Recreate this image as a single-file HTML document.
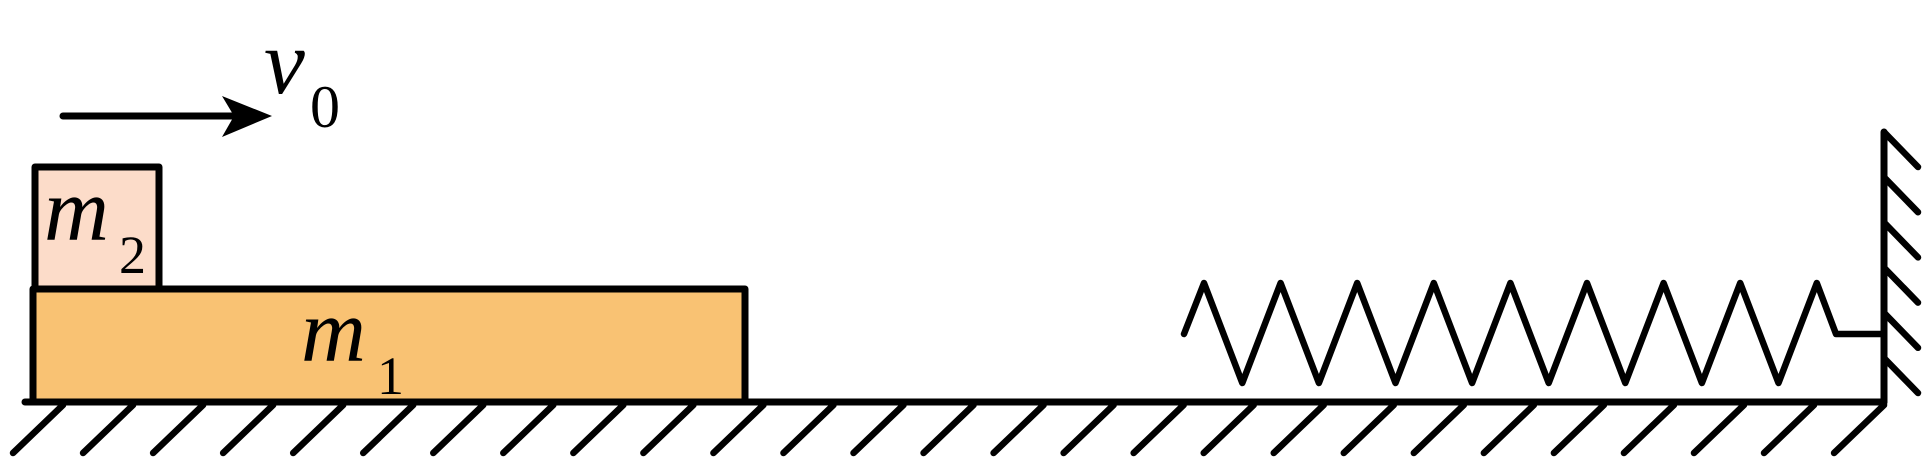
<!DOCTYPE html>
<html><head><meta charset="utf-8"><style>
html,body{margin:0;padding:0;background:#fff;}
svg{display:block;}
text{font-family:"Liberation Serif",serif;fill:#000;}
</style></head><body>
<svg id="fig" width="1930" height="465" viewBox="0 0 1930 465" xmlns="http://www.w3.org/2000/svg">
  <g id="hatches" stroke="#000" stroke-width="6.5" stroke-linecap="round"></g>
  <g id="wallHatches" stroke="#000" stroke-width="6.5" stroke-linecap="round"></g>
  <rect x="33" y="289" width="712" height="113" fill="#F9C273" stroke="#000" stroke-width="7" stroke-linejoin="round"/>
  <rect x="35" y="167" width="124" height="122" fill="#FCDCC9" stroke="#000" stroke-width="7" stroke-linejoin="round"/>
  <line x1="25" y1="402" x2="1884" y2="402" stroke="#000" stroke-width="7" stroke-linecap="round"/>
  <line x1="1884" y1="132" x2="1884" y2="402" stroke="#000" stroke-width="7" stroke-linecap="round"/>
  <polyline id="spring" fill="none" stroke="#000" stroke-width="6.5" stroke-linejoin="round" stroke-linecap="round"/>
  <line x1="63" y1="116" x2="235" y2="116" stroke="#000" stroke-width="7" stroke-linecap="round"/>
  <polygon points="272,116 222,96 234,116 222,137" fill="#000"/>
  <text x="264" y="93" font-size="92" font-style="italic">v</text>
  <text x="310" y="127" font-size="60">0</text>
  <text x="44" y="240" font-size="90" font-style="italic">m</text>
  <text x="119" y="273" font-size="54">2</text>
  <text x="301" y="361" font-size="90" font-style="italic">m</text>
  <text x="377" y="394" font-size="54">1</text>
</svg>
<script>
var ns="http://www.w3.org/2000/svg";
var hg=document.getElementById('hatches');
for(var k=0;k<=26;k++){
  var x=63+70.04*k;
  var l=document.createElementNS(ns,'line');
  
  
  l.setAttribute('x1',x);l.setAttribute('y1',405);
  l.setAttribute('x2',x-50);l.setAttribute('y2',453);
  hg.appendChild(l);
}
var wg=document.getElementById('wallHatches');
for(var j=0;j<6;j++){
  var y=132+45.2*j;
  var w=document.createElementNS(ns,'line');
  
  
  w.setAttribute('x1',1884);w.setAttribute('y1',y);
  w.setAttribute('x2',1918);w.setAttribute('y2',y+35);
  wg.appendChild(w);
}
var pts=[[1184,334]];
var p0=1204,sp=76.6;
for(var i=0;i<9;i++){
  var px=p0+sp*i;
  pts.push([px,283]);
  if(i<8) pts.push([px+sp/2,383]);
}
pts.push([1836,334]);pts.push([1884,334]);
document.getElementById('spring').setAttribute('points',pts.map(function(p){return p[0]+','+p[1];}).join(' '));
</script>
</body></html>
